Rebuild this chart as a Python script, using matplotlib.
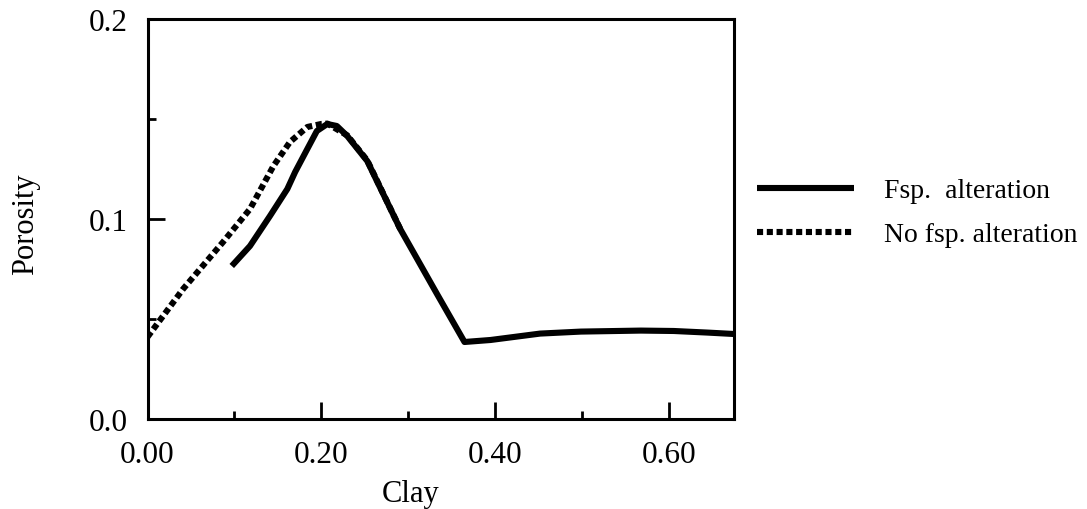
import numpy as np
import matplotlib
matplotlib.use("Agg")
import matplotlib.pyplot as plt
from matplotlib.ticker import MultipleLocator, FormatStrFormatter

plt.rcParams['font.family'] = ['Liberation Serif', 'DejaVu Serif']

# porosity vs clay fraction, with feldspar alteration
clay_fsp = [0.097, 0.118, 0.141, 0.161, 0.170, 0.184, 0.195, 0.207, 0.218,
            0.230, 0.253, 0.291, 0.334, 0.365, 0.395, 0.452, 0.499, 0.568,
            0.606, 0.645, 0.675]
poro_fsp = [0.0765, 0.0865, 0.1015, 0.115, 0.1235, 0.135, 0.144, 0.1475, 0.1465,
            0.1415, 0.129, 0.095, 0.062, 0.0385, 0.0395, 0.0427, 0.0437, 0.0442,
            0.0440, 0.0432, 0.0425]

# without feldspar alteration
clay_nofsp = [0.0, 0.041, 0.087, 0.118, 0.145, 0.164, 0.184, 0.200, 0.207,
              0.230, 0.253, 0.291]
poro_nofsp = [0.041, 0.065, 0.0885, 0.105, 0.1265, 0.1385, 0.146, 0.1475, 0.1477,
              0.1418, 0.1293, 0.095]

labels = ['Fsp.  alteration', 'No fsp. alteration']

fig = plt.figure(figsize=(10.87, 5.10), dpi=100)
ax = fig.add_axes([0.1357, 0.1765, 0.5393, 0.7843])

ax.plot(clay_nofsp, poro_nofsp, color='black', lw=4.4,
        linestyle=(0, (1.0, 0.6)), label=labels[1], zorder=2)
ax.plot(clay_fsp, poro_fsp, color='black', lw=4.4, solid_capstyle='butt',
        label=labels[0], zorder=3)

ax.set_xlim(0, 0.675)
ax.set_ylim(0, 0.2)
ax.xaxis.set_major_locator(MultipleLocator(0.2))
ax.xaxis.set_minor_locator(MultipleLocator(0.1))
ax.yaxis.set_major_locator(MultipleLocator(0.1))
ax.yaxis.set_minor_locator(MultipleLocator(0.05))
ax.xaxis.set_major_formatter(FormatStrFormatter('%.2f'))
ax.yaxis.set_major_formatter(FormatStrFormatter('%.1f'))

ax.tick_params(which='both', direction='in', width=2, labelsize=22.5)
ax.tick_params(which='major', length=12)
ax.tick_params(which='minor', length=6)
ax.tick_params(axis='x', pad=15)
ax.tick_params(axis='y', pad=14)
for s in ax.spines.values():
    s.set_linewidth(2.2)

ax.set_xlabel('Clay', fontsize=22)
ax.set_ylabel('Porosity', fontsize=22)
ax.xaxis.set_label_coords(0.448, -0.15)
ax.yaxis.set_label_coords(-0.184, 0.49)

handles, labs = ax.get_legend_handles_labels()
ax.legend(handles[::-1], labs[::-1], loc='upper left', bbox_to_anchor=(1.039, 0.6025),
          frameon=False, fontsize=20, handlelength=3.5, handletextpad=1.1,
          labelspacing=0.67, borderpad=0, borderaxespad=0)

fig.savefig('out.png', dpi=100)
